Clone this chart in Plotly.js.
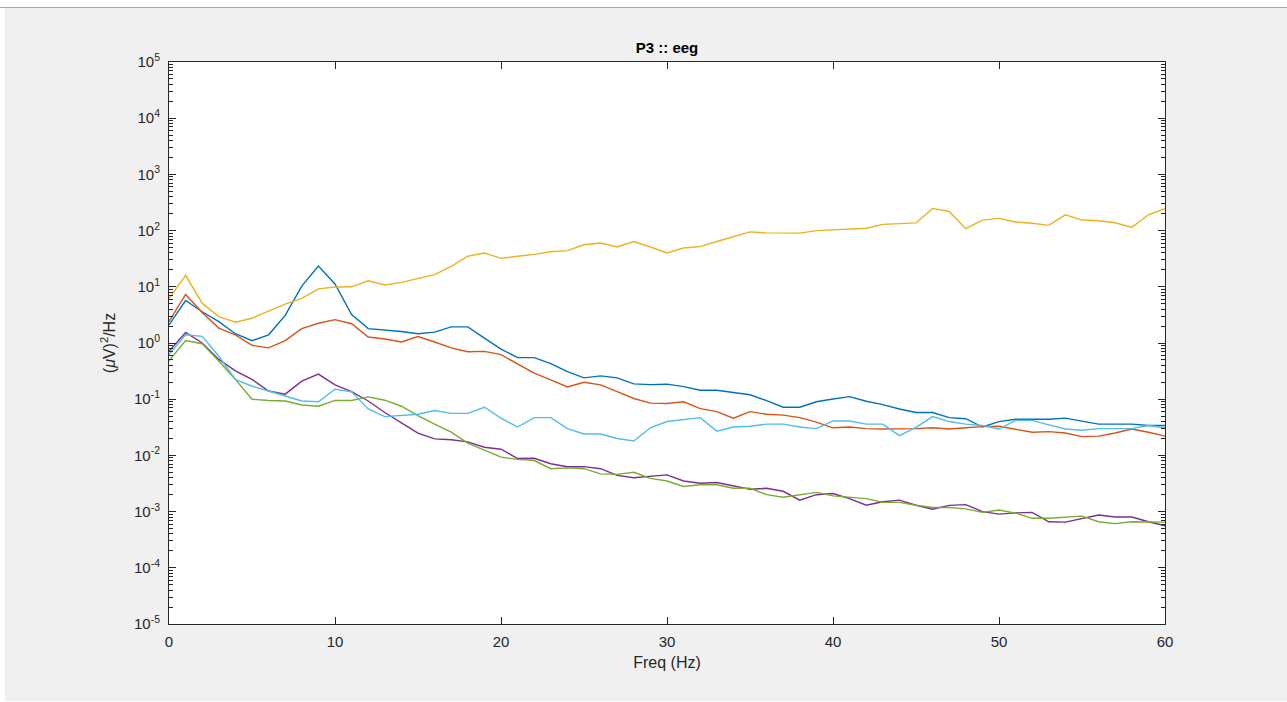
<!DOCTYPE html>
<html>
<head>
<meta charset="utf-8">
<script src="https://cdn.plot.ly/plotly-3.0.1.min.js"></script>
<style>
html,body{margin:0;padding:0;background:#ffffff;width:1287px;height:702px;overflow:hidden;}
#topline{position:absolute;left:0;top:7px;width:1287px;height:1px;background:#a8a8a8;}
#chart{position:absolute;left:5px;top:8px;width:1282px;height:693px;}
</style>
</head>
<body>
<div id="topline"></div>
<div id="chart"></div>
<script>
const freq = [];
for (let f = 0; f <= 60; f++) freq.push(f);

const seriesBlue = [2.1,5.7,3.6,2.4,1.46,1.1,1.4,3.1,10.3,23.5,11.2,3.2,1.8,1.7,1.6,1.46,1.56,1.94,1.94,1.22,0.78,0.55,0.55,0.43,0.31,0.24,0.26,0.24,0.187,0.182,0.185,0.167,0.144,0.144,0.13,0.12,0.094,0.072,0.072,0.09,0.101,0.111,0.092,0.08,0.067,0.058,0.058,0.047,0.045,0.032,0.04,0.044,0.044,0.044,0.046,0.041,0.036,0.036,0.036,0.034,0.034];
const seriesOrange = [2.4,7.3,3.5,1.84,1.4,0.91,0.82,1.1,1.8,2.25,2.6,2.2,1.28,1.18,1.04,1.3,1.04,0.82,0.70,0.71,0.62,0.43,0.29,0.22,0.165,0.2,0.18,0.136,0.103,0.085,0.084,0.09,0.068,0.06,0.046,0.06,0.054,0.052,0.047,0.039,0.031,0.032,0.030,0.0295,0.0295,0.030,0.031,0.0295,0.031,0.0325,0.033,0.0295,0.0258,0.0265,0.025,0.0216,0.022,0.025,0.0295,0.0258,0.022];
const seriesYellow = [6.2,16,5.1,2.95,2.35,2.76,3.7,4.9,6.2,9.2,9.9,10,12.8,10.8,12,14,16.5,23,35,40,32,35,37.7,42,44,56,60,51,64,51,40,49,52,64,78,95,91,91,90,100,104,108,110,129,131,137,248,219,108,154,165,142,135,124,191,154,150,138,114,191,245];
const seriesPurple = [0.71,1.54,1.0,0.51,0.32,0.225,0.14,0.123,0.21,0.28,0.18,0.136,0.093,0.058,0.038,0.025,0.0197,0.019,0.0174,0.014,0.0129,0.0088,0.0089,0.0071,0.0063,0.0063,0.0058,0.0044,0.004,0.0043,0.0045,0.0035,0.0032,0.0033,0.0029,0.0025,0.0026,0.0023,0.0016,0.002,0.0021,0.0017,0.0013,0.0015,0.0016,0.0013,0.0011,0.00129,0.00133,0.001,0.0009,0.00095,0.00097,0.00066,0.00065,0.00076,0.00087,0.0008,0.0008,0.00066,0.00056];
const seriesGreen = [0.48,1.11,0.97,0.48,0.225,0.1,0.095,0.093,0.079,0.075,0.095,0.095,0.11,0.096,0.075,0.051,0.036,0.026,0.0165,0.0123,0.0093,0.0085,0.0081,0.0058,0.006,0.0058,0.0047,0.0046,0.005,0.0039,0.0035,0.0028,0.003,0.003,0.0026,0.0026,0.002,0.0018,0.002,0.0022,0.0019,0.0018,0.0017,0.00146,0.00146,0.0013,0.00118,0.00118,0.00112,0.00097,0.00107,0.00094,0.00076,0.00076,0.0008,0.00083,0.00066,0.00061,0.00066,0.00065,0.00065];
const seriesLightBlue = [0.62,1.4,1.31,0.58,0.225,0.17,0.14,0.115,0.093,0.09,0.15,0.135,0.067,0.049,0.051,0.054,0.063,0.056,0.056,0.072,0.046,0.032,0.047,0.047,0.030,0.024,0.024,0.020,0.018,0.031,0.040,0.044,0.047,0.027,0.032,0.033,0.036,0.036,0.032,0.030,0.041,0.041,0.036,0.036,0.0225,0.0316,0.049,0.040,0.036,0.034,0.0295,0.042,0.042,0.035,0.0295,0.028,0.030,0.030,0.030,0.034,0.031];

const yTickVals = [1e-5,1e-4,1e-3,1e-2,1e-1,1e0,1e1,1e2,1e3,1e4,1e5];
const yTickText = ['10<sup>-5</sup>','10<sup>-4</sup>','10<sup>-3</sup>','10<sup>-2</sup>','10<sup>-1</sup>','10<sup>0</sup>','10<sup>1</sup>','10<sup>2</sup>','10<sup>3</sup>','10<sup>4</sup>','10<sup>5</sup>'];
const xTickVals = [0,10,20,30,40,50,60];

const series = [
  {y: seriesBlue, c: '#0072BD'},
  {y: seriesOrange, c: '#D95319'},
  {y: seriesYellow, c: '#EDB120'},
  {y: seriesPurple, c: '#7E2F8E'},
  {y: seriesGreen, c: '#77AC30'},
  {y: seriesLightBlue, c: '#4DBEEE'}
];

const traces = series.map(s => ({
  x: freq, y: s.y, type: 'scatter', mode: 'lines',
  line: {color: s.c, width: 1.4}, hoverinfo: 'skip', showlegend: false
}));

const FONT = 'Liberation Sans, Arial, sans-serif';
const axisCommon = {
  showline: true, linecolor: '#262626', linewidth: 1,
  mirror: 'allticks', ticks: 'inside', tickcolor: '#262626',
  showgrid: false, zeroline: false,
  tickfont: {family: FONT, size: 15, color: '#262626'}
};

const layout = {
  width: 1282, height: 693,
  paper_bgcolor: '#f0f0f0', plot_bgcolor: '#ffffff',
  margin: {l: 164, r: 122, t: 54, b: 77},
  title: {text: '<b>P3 :: eeg</b>', x: 0.5, xref: 'paper', y: 1, yref: 'paper', yanchor: 'bottom', pad: {b: 9},
          font: {family: FONT, size: 15, color: '#000000'}},
  xaxis: Object.assign({}, axisCommon, {
    range: [0, 60], tickvals: xTickVals, ticklen: 7, ticklabelstandoff: 4,
    title: {text: 'Freq (Hz)', standoff: 7, font: {family: FONT, size: 16, color: '#262626'}}
  }),
  yaxis: Object.assign({}, axisCommon, {
    type: 'log', range: [-5, 5], tickvals: yTickVals, ticktext: yTickText, ticklen: 7, ticklabelstandoff: 5,
    minor: {ticks: 'inside', ticklen: 4, tickcolor: '#262626', dtick: 'D1', showgrid: false},
    title: {text: '(<i>μ</i>V)<sup>2</sup>/Hz', standoff: 14, font: {family: FONT, size: 16, color: '#262626'}}
  })
};

Plotly.newPlot('chart', traces, layout, {displayModeBar: false, staticPlot: true});
</script>
</body>
</html>
